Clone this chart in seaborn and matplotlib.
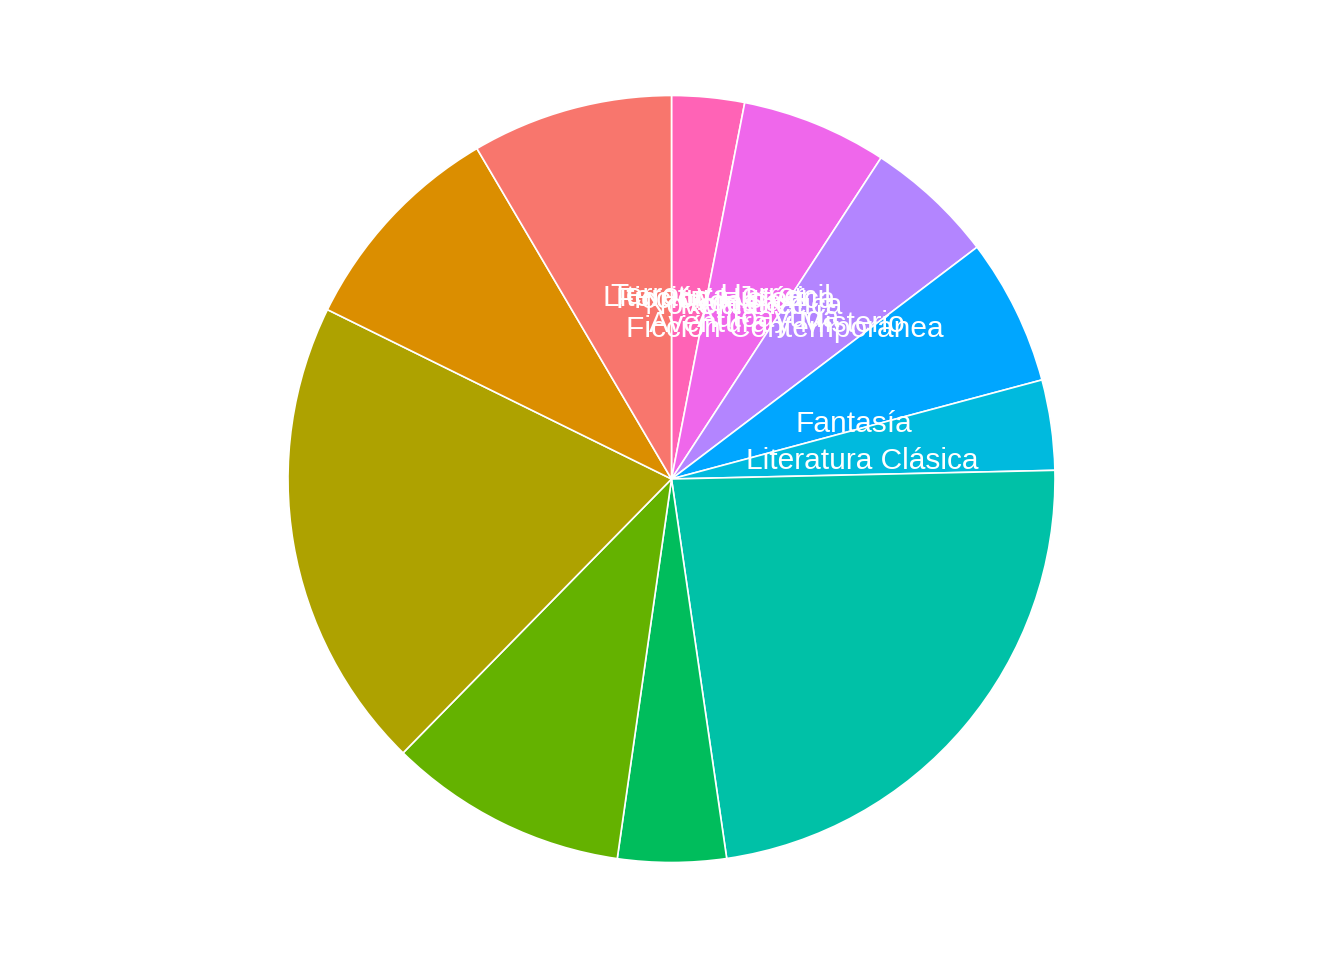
import numpy as np
import seaborn as sns
from matplotlib import pyplot as plt

# genres (factor level order) and their share in %
generos = ["Autoayuda", "Aventura y Misterio", "Fantasía", "Ficción Contemporánea",
           "Ficción Histórica", "Literatura Clásica", "Literatura Juvenil",
           "Novela Gráfica", "Poesía", "Romance", "Terror y Horror"]
porcentaje = [8.47, 9.25, 19.94, 10.08, 4.56, 23.06, 3.80, 6.17, 5.47, 6.14, 3.06]

colores = ["#F8766D", "#DB8E00", "#AEA200", "#64B200", "#00BD5C", "#00C1A7",
           "#00BADE", "#00A6FF", "#B385FF", "#EF67EB", "#FF63B6"]

sns.set_theme(style="white")
plt.rcParams['font.family'] = ['Liberation Sans', 'DejaVu Sans']

fig = plt.figure(figsize=(13.44, 9.6), dpi=100)
ax = fig.add_axes([288 / 1344, (960 - 479 - 383.5) / 960, 767 / 1344, 767 / 960])

# stacked like ggplot: last level starts at 12 o'clock, going clockwise
ax.pie(porcentaje[::-1], colors=sns.color_palette(colores[::-1]), startangle=90,
       counterclock=False, radius=1,
       wedgeprops=dict(edgecolor="white", linewidth=1.2))

# labels placed at y = value (unstacked), half the radius
total = sum(porcentaje)
for g, v in zip(generos, porcentaje):
    ang = np.deg2rad(90 - v / total * 360)
    ax.annotate(g, (0.5 * np.cos(ang), 0.5 * np.sin(ang)), xytext=(0, -3.6),
                textcoords="offset points", color="white",
                fontsize=21.5, ha="center", va="center")

ax.set_xlim(-1, 1)
ax.set_ylim(-1, 1)
ax.set_aspect("equal")
ax.axis("off")

fig.savefig("out.png", dpi=100, facecolor="white")
